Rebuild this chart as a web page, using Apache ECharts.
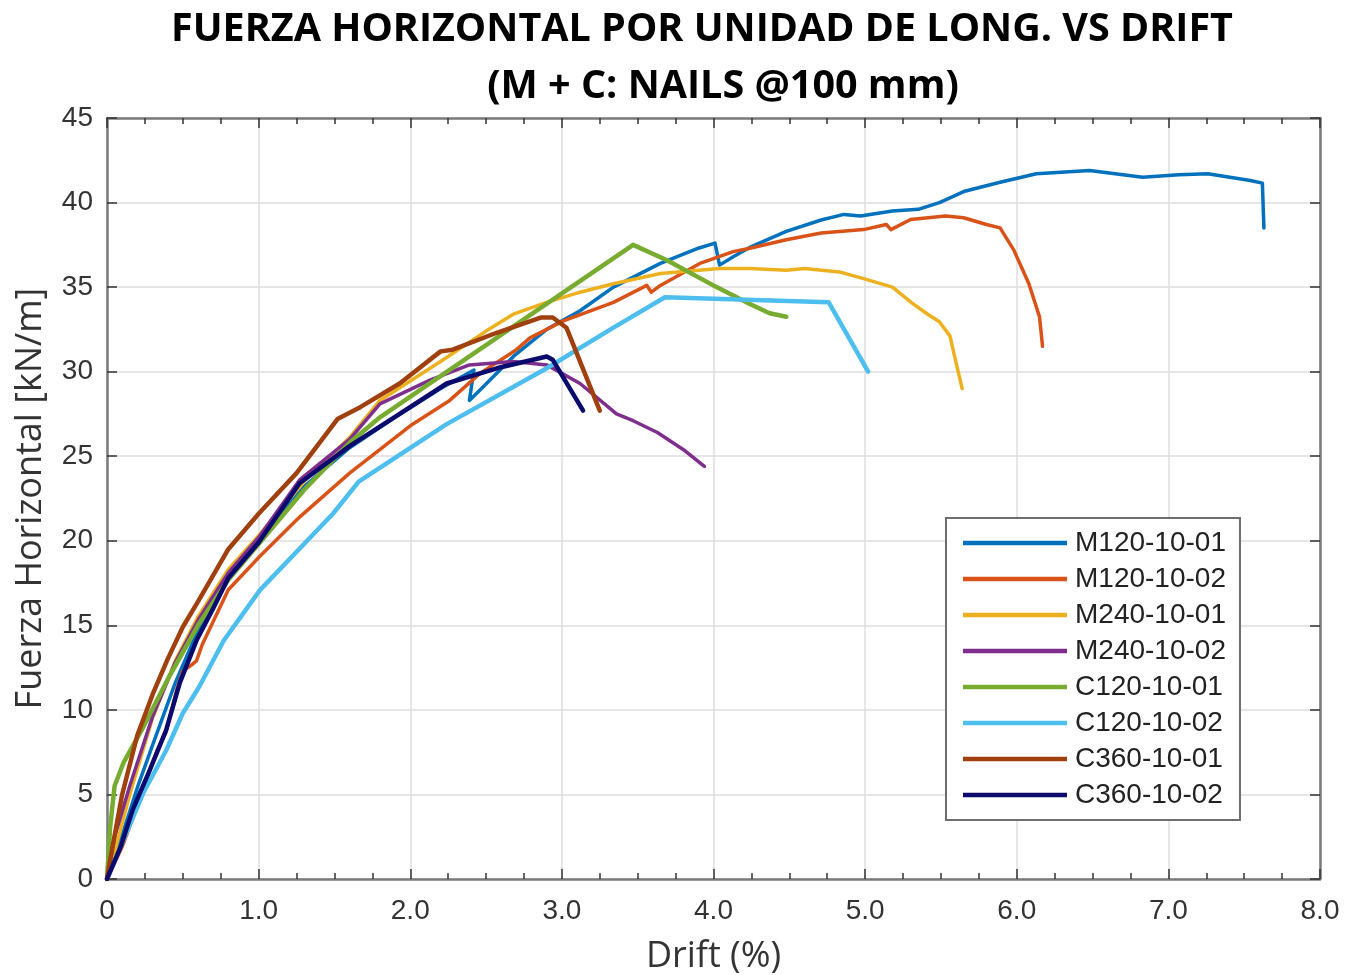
<!DOCTYPE html>
<html>
<head>
<meta charset="utf-8">
<title>Fuerza horizontal vs drift</title>
<script src="https://cdn.jsdelivr.net/npm/echarts@6/dist/echarts.min.js"></script>
<style>
  html, body { margin: 0; padding: 0; background: #ffffff; }
  #chart { width: 1349px; height: 975px; }
</style>
</head>
<body>
<div id="chart"></div>
<script>
// Drift (%) vs horizontal force per unit length (kN/m), one array of [drift, force] per specimen
const seriesNames = ['M120-10-01', 'M120-10-02', 'M240-10-01', 'M240-10-02',
                     'C120-10-01', 'C120-10-02', 'C360-10-01', 'C360-10-02'];

const m120_01 = [[0,0],[0.1,2.6],[0.2,5.4],[0.3,7.9],[0.45,11.6],[0.6,14.7],[0.8,17.8],[1.0,20.0],
  [1.3,23.2],[1.6,25.5],[1.9,27.3],[2.2,29.0],[2.42,30.1],[2.39,28.3],[2.48,29.1],[2.68,30.9],
  [2.9,32.5],[3.12,33.6],[3.34,35.0],[3.65,36.4],[3.9,37.3],[4.01,37.6],[4.04,36.3],[4.13,36.8],
  [4.25,37.4],[4.48,38.3],[4.71,38.97],[4.86,39.3],[4.97,39.2],[5.18,39.5],[5.35,39.6],[5.49,40.0],
  [5.65,40.65],[5.89,41.2],[6.13,41.7],[6.48,41.9],[6.83,41.5],[7.07,41.65],[7.26,41.7],[7.54,41.3],
  [7.62,41.15],[7.63,38.5]];

const m120_02 = [[0,0],[0.1,1.9],[0.17,3.6],[0.24,5.4],[0.33,7.6],[0.39,8.7],[0.46,11.2],[0.5,12.3],
  [0.55,12.6],[0.59,12.9],[0.63,13.9],[0.8,17.1],[1.01,19.1],[1.27,21.4],[1.6,24.0],[2.0,26.8],
  [2.26,28.3],[2.46,29.9],[2.7,31.3],[2.79,32.0],[3.01,33.0],[3.34,34.1],[3.56,35.1],[3.59,34.7],
  [3.65,35.1],[3.91,36.4],[4.13,37.1],[4.24,37.3],[4.48,37.8],[4.71,38.2],[4.99,38.4],[5.14,38.7],
  [5.17,38.4],[5.3,39.0],[5.53,39.2],[5.65,39.1],[5.8,38.7],[5.89,38.5],[5.98,37.2],[6.08,35.2],
  [6.15,33.25],[6.17,31.5]];

const m240_01 = [[0,0],[0.05,1.6],[0.15,5.0],[0.3,9.5],[0.45,12.9],[0.6,15.5],[0.8,18.3],[1.0,20.3],
  [1.3,23.5],[1.6,26.1],[1.8,28.3],[2.2,30.6],[2.5,32.4],[2.68,33.4],[2.9,34.1],[3.12,34.7],
  [3.34,35.2],[3.65,35.8],[4.04,36.1],[4.24,36.1],[4.48,36.0],[4.6,36.1],[4.83,35.9],[4.99,35.5],
  [5.18,35.0],[5.31,34.05],[5.42,33.35],[5.49,32.95],[5.56,32.1],[5.59,30.9],[5.64,29.0]];

const m240_02 = [[0,0],[0.05,2.5],[0.15,5.5],[0.3,9.6],[0.45,12.8],[0.6,15.3],[0.8,18.1],[1.0,20.2],
  [1.27,23.6],[1.6,26.0],[1.8,28.1],[2.13,29.5],[2.39,30.4],[2.68,30.6],[2.9,30.4],[3.12,29.3],
  [3.36,27.5],[3.47,27.1],[3.63,26.4],[3.8,25.4],[3.94,24.4]];

const c120_01 = [[0,0],[0.02,3.0],[0.05,5.5],[0.11,6.9],[0.24,9.0],[0.4,11.8],[0.6,15.0],[0.8,17.7],
  [1.0,19.8],[1.3,23.0],[1.6,25.8],[1.8,27.3],[3.47,37.5],[3.69,36.6],[4.02,35.0],[4.24,34.0],
  [4.37,33.45],[4.48,33.25]];

const c120_02 = [[0,0],[0.07,1.5],[0.24,5.1],[0.39,7.6],[0.5,9.8],[0.61,11.4],[0.77,14.1],[1.01,17.1],
  [1.49,21.6],[1.66,23.5],[2.24,26.9],[2.9,30.2],[3.34,32.6],[3.68,34.4],[4.76,34.1],[5.02,30.0]];

const c360_01 = [[0,0],[0.02,1.1],[0.1,5.0],[0.2,8.5],[0.3,10.9],[0.4,13.0],[0.5,14.9],[0.6,16.4],
  [0.8,19.5],[1.0,21.6],[1.25,24.0],[1.52,27.2],[1.67,27.9],[1.93,29.3],[2.2,31.2],[2.28,31.3],
  [2.57,32.3],[2.86,33.2],[2.94,33.2],[3.03,32.6],[3.25,27.7]];

const c360_02 = [[0,0],[0.09,1.9],[0.17,4.1],[0.28,6.4],[0.39,8.8],[0.48,11.6],[0.59,14.1],[0.7,16.0],
  [0.8,17.8],[1.0,19.9],[1.27,23.4],[1.6,25.6],[1.93,27.5],[2.24,29.3],[2.57,30.2],[2.9,30.9],
  [2.94,30.7],[3.14,27.7]];

const seriesData = [m120_01, m120_02, m240_01, m240_02, c120_01, c120_02, c360_01, c360_02];
const seriesColors = ['#0072BD', '#D95319', '#EDB120', '#7E2F8E', '#77AC30', '#4DBEEE', '#A0400F', '#0B0B6E'];
const seriesWidths = [3.5, 3.5, 3.5, 3.5, 4.5, 4.5, 4.5, 4.5];

// Axis tick labels
const xTickLabels = ['0', '1.0', '2.0', '3.0', '4.0', '5.0', '6.0', '7.0', '8.0'];
const yTickLabels = ['0', '5', '10', '15', '20', '25', '30', '35', '40', '45'];

const axisGray = '#7a7a7a';
const gridGray = '#dedede';
const tickFont = { fontFamily: 'Liberation Sans', fontSize: 28, color: '#333333' };

const chart = echarts.init(document.getElementById('chart'), null, { renderer: 'canvas' });

function xAxisBase(position) {
  return {
    type: 'value', position: position, min: 0, max: 8, interval: 1,
    axisLine: { show: true, onZero: false, lineStyle: { color: axisGray, width: 2.5 } },
    axisTick: { show: true, inside: true, length: 10, lineStyle: { color: '#333', width: 1.5 } },
    minorTick: { show: true, splitNumber: 4, length: 6, lineStyle: { color: '#333', width: 1.5 } },
    splitLine: { show: false }
  };
}
function yAxisBase(position) {
  return {
    type: 'value', position: position, min: 0, max: 45, interval: 5,
    axisLine: { show: true, onZero: false, lineStyle: { color: axisGray, width: 2.5 } },
    axisTick: { show: true, inside: true, length: 10, lineStyle: { color: '#333', width: 1.5 } },
    splitLine: { show: false }
  };
}

const xBottom = Object.assign(xAxisBase('bottom'), {
  name: 'Drift (%)', nameLocation: 'middle', nameGap: 60,
  nameTextStyle: { fontFamily: 'Open Sans', fontSize: 36, color: '#333333' },
  axisLabel: Object.assign({ margin: 18, formatter: v => xTickLabels[Math.round(v)] }, tickFont),
  splitLine: { show: true, lineStyle: { color: gridGray, width: 1.5 } }
});
const xTop = Object.assign(xAxisBase('top'), { axisLabel: { show: false } });

const yLeft = Object.assign(yAxisBase('left'), {
  name: 'Fuerza Horizontal [kN/m]', nameLocation: 'middle', nameGap: 58,
  nameTextStyle: { fontFamily: 'Open Sans', fontSize: 36, color: '#333333' },
  axisLabel: Object.assign({ margin: 14, formatter: v => yTickLabels[Math.round(v / 5)] }, tickFont),
  splitLine: { show: true, lineStyle: { color: gridGray, width: 1.5 } }
});
const yRight = Object.assign(yAxisBase('right'), { axisLabel: { show: false } });

const titleStyle = { fontFamily: 'Open Sans', fontWeight: 'bold', fontSize: 39.5, color: '#000000' };

chart.setOption({
  animation: false,
  backgroundColor: '#ffffff',
  title: [
    { text: 'FUERZA HORIZONTAL POR UNIDAD DE LONG. VS DRIFT', left: 702, top: 10, textAlign: 'center', textStyle: titleStyle, padding: 0 },
    { text: '(M + C: NAILS @100 mm)', left: 723, top: 67, textAlign: 'center', textStyle: titleStyle, padding: 0 }
  ],
  grid: { left: 107, right: 29, top: 118, bottom: 96, containLabel: false, outerBoundsMode: 'none' },
  xAxis: [xBottom, xTop],
  yAxis: [yLeft, yRight],
  legend: {
    orient: 'vertical', left: 946, top: 518,
    padding: [11, 14, 11, 17], itemGap: 8,
    itemWidth: 104, itemHeight: 4.5, icon: 'rect',
    backgroundColor: '#ffffff', borderColor: '#6e6e6e', borderWidth: 2, borderRadius: 0,
    textStyle: { fontFamily: 'Liberation Sans', fontSize: 28, lineHeight: 28, color: '#222222', padding: [0, 0, 0, 3] },
    data: seriesNames
  },
  series: seriesNames.map((name, i) => ({
    name: name, type: 'line', data: seriesData[i],
    xAxisIndex: 0, yAxisIndex: 0,
    showSymbol: false, symbol: 'none', smooth: false,
    lineStyle: { color: seriesColors[i], width: seriesWidths[i], join: 'round', cap: 'round' },
    itemStyle: { color: seriesColors[i] },
    emphasis: { disabled: true }, z: 2 + i
  }))
});
</script>
</body>
</html>
